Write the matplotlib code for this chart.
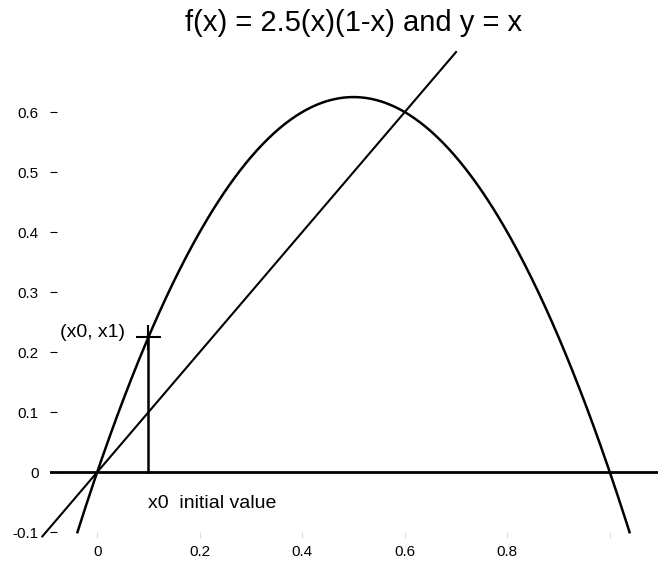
import numpy as np
import matplotlib
matplotlib.use("Agg")
import matplotlib.pyplot as plt

plt.rcParams['font.family'] = ['Liberation Sans', 'DejaVu Sans']

# logistic map parameters
r = 2.5
x0 = 0.1
x1 = r * x0 * (1 - x0)

# curve range (where f(x) drops to -0.1) and identity line range
curve_x = np.linspace(-0.0385, 1.0385, 400)
diag_x = [-0.107, 0.7]

xticks = [0, 0.2, 0.4, 0.6, 0.8, 1.0]
xtick_labels = ["0", "0.2", "0.4", "0.6", "0.8", ""]
yticks = [-0.1, 0, 0.1, 0.2, 0.3, 0.4, 0.5, 0.6]
ytick_labels = ["-0.1", "0", "0.1", "0.2", "0.3", "0.4", "0.5", "0.6"]

fig = plt.figure(figsize=(6.58, 5.63), dpi=100)
ax = fig.add_axes([0.076, 0.044, 0.924, 0.871])

ax.plot(curve_x, r * curve_x * (1 - curve_x), color='black', lw=1.8)
ax.plot(diag_x, diag_x, color='black', lw=1.5, clip_on=False)
ax.axhline(0, color='black', lw=2)
ax.plot([x0, x0], [0, x1], color='black', lw=1.8)
ax.plot([x0], [x1], marker='+', color='black', markersize=18, mew=1.5)

ax.text(x0 - 0.045, x1 + 0.007, "(x0, x1)", ha='right', va='center', fontsize=14)
ax.text(x0, -0.052, "x0  initial value", ha='left', va='center', fontsize=14)

ax.set_xlim(-0.092, 1.094)
ax.set_ylim(-0.11, 0.707)
ax.set_xticks(xticks)
ax.set_xticklabels(xtick_labels, fontsize=11)
ax.set_yticks(yticks)
ax.set_yticklabels(ytick_labels, fontsize=11)
ax.tick_params(axis='y', direction='in', length=5, pad=8)
ax.tick_params(axis='x', direction='in', length=4, color='#dddddd', pad=5)
for s in ax.spines.values():
    s.set_visible(False)

ax.set_title("f(x) = 2.5(x)(1-x) and y = x", fontsize=21, pad=12)

plt.savefig("out.png", dpi=100)
